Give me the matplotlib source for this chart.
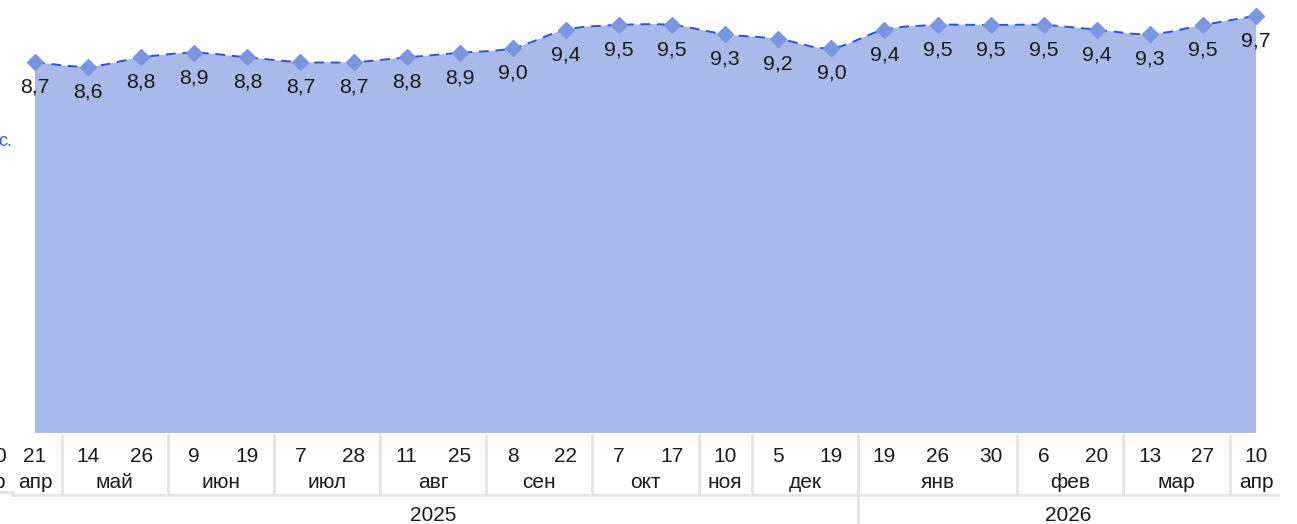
import matplotlib
matplotlib.use("Agg")
import matplotlib.pyplot as plt
from matplotlib.path import Path
from matplotlib.patches import PathPatch
import matplotlib.transforms as mtrans
import numpy as np

plt.rcParams["font.family"] = ["Liberation Sans", "DejaVu Sans"]

# ── Data ──────────────────────────────────────────────────────────────────
days = ["21", "14", "26", "9", "19", "7", "28", "11", "25", "8", "22", "7",
        "17", "10", "5", "19", "19", "26", "30", "6", "20", "13", "27", "10"]
values = [8.7, 8.6, 8.8, 8.9, 8.8, 8.7, 8.7, 8.8, 8.9, 9.0, 9.4, 9.5,
          9.5, 9.3, 9.2, 9.0, 9.4, 9.5, 9.5, 9.5, 9.4, 9.3, 9.5, 9.7]
months = ["апр", "май", "июн", "июл", "авг", "сен", "окт", "ноя", "дек",
          "янв", "фев", "мар", "апр"]
month_counts = [1, 2, 2, 2, 2, 2, 2, 1, 2, 3, 2, 2, 1]
years = ["2025", "2026"]
year_counts = [16, 8]

# ── Style ─────────────────────────────────────────────────────────────────
C_AREA = "#a9b9e9"
C_MARK = "#7b96e0"
C_LINE = "#2b55d6"
C_SEP = "#e3e3e3"
C_TEXT = "#1a1a1a"
FS_AXIS = 15
FS_LABEL = 15.3

W, H = 1297, 524
fig = plt.figure(figsize=(W / 100, H / 100), dpi=100)
ax = fig.add_axes([0, 0, 1, 1])
ax.axis("off")

# pixel mapping: first point at x=35, step ~53.1 px
x0_px, step_px = 35, 53.09
ax.set_xlim(-x0_px / step_px, (W - x0_px) / step_px)
ax.set_ylim(-1.28, 10.04)
base = 0.687

def py(p):
    """pixel row (from top) -> axes fraction"""
    return 1 - p / H

def px(p):
    return p / W

x = np.arange(len(values))
y = np.array(values)

# smooth (Catmull-Rom -> cubic bezier) path through the points
def smooth_path(xs, ys):
    pts = np.column_stack([xs, ys])
    verts = [pts[0]]
    codes = [Path.MOVETO]
    n = len(pts)
    for i in range(n - 1):
        p0 = pts[max(i - 1, 0)]
        p1 = pts[i]
        p2 = pts[i + 1]
        p3 = pts[min(i + 2, n - 1)]
        c1 = p1 + (p2 - p0) / 6
        c2 = p2 - (p3 - p1) / 6
        verts += [c1, c2, p2]
        codes += [Path.CURVE4] * 3
    return verts, codes

verts, codes = smooth_path(x, y)
area_verts = verts + [(x[-1], base), (x[0], base), verts[0]]
area_codes = codes + [Path.LINETO, Path.LINETO, Path.CLOSEPOLY]
ax.add_patch(PathPatch(Path(area_verts, area_codes), facecolor=C_AREA,
                       edgecolor="none", zorder=1))
ax.add_patch(PathPatch(Path(verts, codes), facecolor="none", edgecolor=C_LINE,
                       lw=1.4, linestyle=(0, (5, 3.5)), zorder=2))
ax.plot(x, y, linestyle="none", marker="D", ms=8.5, color=C_MARK, zorder=3)

for xi, v in zip(x, values):
    ax.annotate(f"{v:.1f}".replace(".", ","), (xi, v), xytext=(0, -18),
                textcoords="offset points", ha="center", va="center",
                fontsize=FS_LABEL, color=C_TEXT, zorder=4)

# ── Category axis (days / months / years) ─────────────────────────────────
bx = mtrans.blended_transform_factory(ax.transData, ax.transAxes)

for xi, d in zip(x, days):
    ax.text(xi, py(462), d, transform=bx, ha="center", va="baseline",
            fontsize=FS_AXIS, color=C_TEXT)

start = 0
for m, c in zip(months, month_counts):
    mid = start + (c - 1) / 2
    ax.text(mid, py(488), m, transform=bx, ha="center", va="baseline",
            fontsize=FS_AXIS, color=C_TEXT)
    end = start + c - 0.5
    if end < len(values) - 0.5:
        ax.plot([end, end], [py(434), py(495)], transform=bx, color=C_SEP,
                lw=2, solid_capstyle="butt")
    start += c

ystart = -0.5
left_edge = (8 - x0_px) / step_px
right_edge = (1278 - x0_px) / step_px
for yr, c in zip(years, year_counts):
    lo = max(ystart, left_edge)
    hi = min(ystart + c, right_edge)
    ax.text((lo + hi) / 2, py(521), yr, transform=bx, ha="center",
            va="baseline", fontsize=FS_AXIS, color=C_TEXT)
    ystart += c
ax.plot([15.5, 15.5], [py(434), py(524)], transform=bx, color=C_SEP, lw=2,
        solid_capstyle="butt")
ax.plot([left_edge + 0.08, right_edge], [py(495), py(495)], transform=bx,
        color=C_SEP, lw=2)

# cropped remains of the neighbouring chart on the left edge
ax.text(px(6), py(462), "0", ha="right", va="baseline", fontsize=FS_AXIS,
        color=C_TEXT, transform=ax.transAxes)
ax.text(px(5), py(488), "р", ha="right", va="baseline", fontsize=FS_AXIS,
        color=C_TEXT, transform=ax.transAxes)
ax.plot([px(0), px(13)], [py(492), py(492)], color=C_SEP, lw=2,
        transform=ax.transAxes)
ax.text(px(-2), py(141), "с.", ha="left", va="center", fontsize=13,
        color="#3a5bd0", transform=ax.transAxes)

fig.savefig("out.png", dpi=100)
